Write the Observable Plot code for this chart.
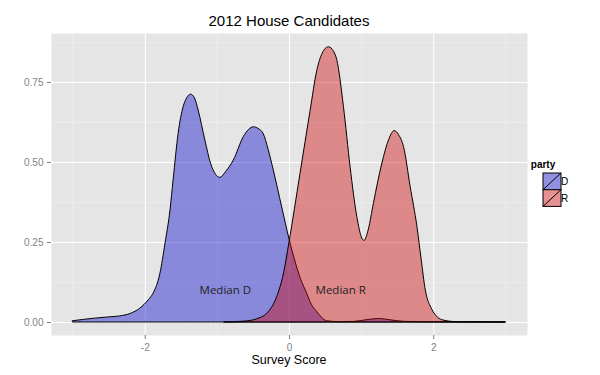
<!DOCTYPE html>
<html><head><meta charset="utf-8">
<script src="https://cdn.jsdelivr.net/npm/d3@7"></script>
<script src="https://cdn.jsdelivr.net/npm/@observablehq/plot@0.6"></script>
<style>
body{margin:0;background:#fff}
#chart{position:relative;width:600px;height:375px}
</style>
</head><body><div id="chart"></div>
<script>
// Density of survey scores, Democrats
const xD = [-3.0,-2.7,-2.5,-2.35,-2.2,-2.07,-1.95,-1.885,-1.79,-1.72,-1.65,-1.607,-1.537,-1.468,-1.42,-1.365,-1.31,-1.26,-1.167,-1.088,-1.02,-0.958,-0.88,-0.773,-0.634,-0.56,-0.495,-0.43,-0.356,-0.29,-0.218,-0.102,0.0,0.083,0.16,0.245,0.31,0.384,0.45,0.52,0.7,0.9,1.1,1.25,1.4,1.6,1.9,2.3,3.0];
const yD = [0.004,0.012,0.016,0.019,0.027,0.043,0.07,0.09,0.152,0.245,0.35,0.444,0.59,0.673,0.70,0.712,0.70,0.6625,0.569,0.496,0.462,0.452,0.47,0.506,0.579,0.602,0.61,0.605,0.588,0.54,0.475,0.36,0.26,0.19,0.135,0.09,0.055,0.033,0.015,0.004,0.001,0.002,0.008,0.011,0.007,0.002,0.001,0.0005,0.0003];
// Density of survey scores, Republicans
const xR = [-0.9,-0.61,-0.45,-0.31,-0.171,-0.079,0.0,0.153,0.292,0.384,0.46,0.546,0.62,0.662,0.755,0.847,0.94,1.01,1.04,1.1,1.17,1.287,1.38,1.458,1.52,1.588,1.68,1.774,1.83,1.89,1.98,2.06,2.14,2.33,3.0];
const yR = [0.0,0.003,0.01,0.027,0.079,0.15,0.25,0.465,0.66,0.785,0.84,0.86,0.845,0.82,0.673,0.485,0.33,0.262,0.255,0.29,0.371,0.496,0.569,0.598,0.585,0.548,0.423,0.298,0.2,0.1,0.04,0.015,0.006,0.001,0.0];

const parties = ["D", "R"];
const partyColors = ["#0000ce", "#d30000"];
const medianX = [-0.89, 0.71];
const medianLabels = ["Median D", "Median R"];
const medianY = [0.1, 0.1];
const xTicks = [-2, 0, 2];
const xMinor = [-3, -1, 1, 3];
const yTicks = [0, 0.25, 0.5, 0.75];
const yMinor = [0.125, 0.375, 0.625, 0.875];
const titleText = "2012 House Candidates";
const xLabel = "Survey Score";
const legendTitle = "party";

const densities = [
  ...xD.map((x, i) => ({party: "D", x, y: yD[i]})),
  ...xR.map((x, i) => ({party: "R", x, y: yR[i]}))
];
const medians = medianX.map((x, i) => ({x, y: medianY[i], text: medianLabels[i]}));

const W = 600, H = 375, mL = 51, mR = 73, mT = 33, mB = 40;
const font = "'Liberation Sans', Arial, sans-serif";

const plot = Plot.plot({
  width: W, height: H,
  marginLeft: mL, marginRight: mR, marginTop: mT, marginBottom: mB,
  style: {fontFamily: font, background: "transparent", overflow: "visible"},
  x: {domain: [-3.3, 3.3]},
  y: {domain: [-0.0406, 0.903]},
  color: {domain: parties, range: partyColors},
  marks: [
    Plot.frame({fill: "#e5e5e5", stroke: null}),
    Plot.ruleX(xMinor, {stroke: "#f2f2f2", strokeWidth: 0.6}),
    Plot.ruleY(yMinor, {stroke: "#f2f2f2", strokeWidth: 0.6}),
    Plot.ruleX(xTicks, {stroke: "#ffffff", strokeWidth: 1.1}),
    Plot.ruleY(yTicks, {stroke: "#ffffff", strokeWidth: 1.1}),
    Plot.areaY(densities, {x: "x", y1: 0, y2: "y", z: "party", fill: "party", fillOpacity: 0.4,
      stroke: "#000", strokeWidth: 1, curve: "monotone-x"}),
    Plot.text(medians, {x: "x", y: "y", text: "text", fontFamily: "'Open Sans', sans-serif",
      fontSize: 11.5, fill: "#222"}),
    Plot.axisX(xTicks, {tickSize: 4, tickPadding: 4, color: "#7f7f7f", fontSize: 10,
      tickFormat: d => String(d), label: null}),
    Plot.axisY(yTicks, {tickSize: 4, tickPadding: 4, color: "#7f7f7f", fontSize: 10,
      tickFormat: d3.format(".2f"), label: null})
  ]
});

document.getElementById("chart").appendChild(plot);

const svg = d3.select(plot);
const cx = (mL + (W - mR)) / 2;
svg.append("text").attr("x", cx).attr("y", 26).attr("text-anchor", "middle")
  .attr("font-family", font).attr("font-size", 15).attr("fill", "#000").text(titleText);
svg.append("text").attr("x", cx).attr("y", 364).attr("text-anchor", "middle")
  .attr("font-family", font).attr("font-size", 12.5).attr("fill", "#000").text(xLabel);

// legend
const lg = svg.append("g").attr("transform", "translate(543,0)");
lg.append("text").attr("x", 0).attr("y", 168).attr("font-family", font)
  .attr("font-size", 10).attr("font-weight", "bold").attr("fill", "#000").text(legendTitle);
const keyH = 16.7, keyW = 18, keyTop = 173;
parties.forEach((p, i) => {
  const y0 = keyTop + i * keyH;
  lg.append("rect").attr("x", 0).attr("y", y0).attr("width", keyW).attr("height", keyH)
    .attr("fill", "#f2f2f2");
  lg.append("rect").attr("x", 0).attr("y", y0).attr("width", keyW).attr("height", keyH)
    .attr("fill", partyColors[i]).attr("fill-opacity", 0.4)
    .attr("stroke", "#000").attr("stroke-width", 1);
  lg.append("line").attr("x1", 0).attr("y1", y0 + keyH).attr("x2", keyW).attr("y2", y0)
    .attr("stroke", "#000").attr("stroke-width", 1);
  lg.append("text").attr("x", keyW + 3.5).attr("y", y0 + keyH / 2 + 3.6)
    .attr("font-family", font).attr("font-size", 10).attr("fill", "#000").text(p);
});
</script>
</body></html>
